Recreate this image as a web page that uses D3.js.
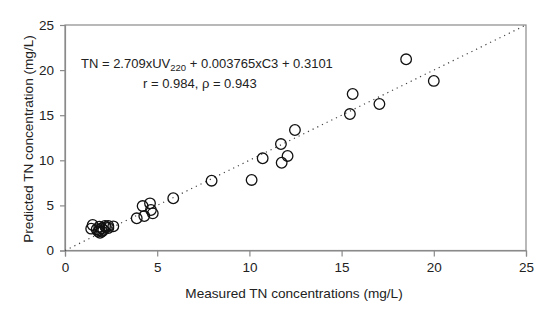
<!DOCTYPE html>
<html>
<head>
<meta charset="utf-8">
<script src="https://cdn.jsdelivr.net/npm/d3@7"></script>
<style>
  body { margin: 0; background: #fff; }
  text { font-family: "Liberation Sans", Arial, sans-serif; fill: #222; }
</style>
</head>
<body>
<div id="chart"></div>
<script>
const measured = [18.5, 20.0, 15.6, 17.05, 15.45, 12.47, 11.71, 12.07, 11.75, 10.72, 10.12, 7.95, 5.87,
  4.21, 4.61, 4.76, 4.66, 4.30, 3.89,
  1.5, 1.42, 2.62, 2.35, 2.17, 1.99, 1.81, 1.72, 1.9, 2.08, 2.35, 1.86, 2.22, 2.0, 1.85];
const predicted = [21.2, 18.8, 17.35, 16.24, 15.13, 13.36, 11.8, 10.48, 9.73, 10.22, 7.82, 7.74, 5.79,
  4.93, 5.23, 4.12, 4.49, 3.82, 3.57,
  2.83, 2.42, 2.68, 2.72, 2.72, 2.46, 2.09, 2.35, 1.97, 2.27, 2.5, 2.64, 2.57, 2.1, 2.25];
const ticks = [0, 5, 10, 15, 20, 25];
const oneToOne = [0, 25];

const W = 550, H = 321;
const margin = { top: 25, right: 24, bottom: 70.5, left: 65 };
const width = W - margin.left - margin.right;
const height = H - margin.top - margin.bottom;

const svg = d3.select("#chart").append("svg")
  .attr("width", W).attr("height", H);
const g = svg.append("g")
  .attr("transform", "translate(" + margin.left + "," + margin.top + ")");

const x = d3.scaleLinear().domain([0, 25]).range([0, width]);
const y = d3.scaleLinear().domain([0, 25]).range([height, 0]);

// frame
g.append("rect")
  .attr("x", 0).attr("y", 0)
  .attr("width", width).attr("height", height)
  .attr("fill", "none").attr("stroke", "#8a8a8a").attr("stroke-width", 1.2);

const xAxis = g.append("g")
  .attr("transform", "translate(0," + height + ")")
  .call(d3.axisBottom(x).tickValues(ticks).tickSize(6).tickPadding(6));
const yAxis = g.append("g")
  .call(d3.axisLeft(y).tickValues(ticks).tickSize(5).tickPadding(6));
[xAxis, yAxis].forEach(a => {
  a.select(".domain").attr("stroke", "#8a8a8a").attr("stroke-width", 1.2);
  a.selectAll(".tick line").attr("stroke", "#8a8a8a").attr("stroke-width", 1.2);
  a.selectAll(".tick text").style("font-family", "Liberation Sans, Arial, sans-serif")
    .style("font-size", "13.5px").attr("fill", "#222");
});

// 1:1 line
g.append("line")
  .attr("x1", x(oneToOne[0])).attr("y1", y(oneToOne[0]))
  .attr("x2", x(oneToOne[1])).attr("y2", y(oneToOne[1]))
  .attr("stroke", "#444").attr("stroke-width", 1.2)
  .attr("stroke-dasharray", "1.2,4");

// points
g.selectAll(".pt")
  .data(measured.map((m, i) => [m, predicted[i]]))
  .enter().append("circle")
  .attr("class", "pt")
  .attr("cx", d => x(d[0]))
  .attr("cy", d => y(d[1]))
  .attr("r", 5.3)
  .attr("fill", "none")
  .attr("stroke", "#111")
  .attr("stroke-width", 1.3);

// equation
const eq = g.append("text")
  .attr("x", 16).attr("y", 43)
  .style("font-size", "13px");
eq.append("tspan").text("TN = 2.709xUV");
eq.append("tspan").attr("dy", 3).style("font-size", "9.5px").text("220");
eq.append("tspan").attr("dy", -3).text(" + 0.003765xC3 + 0.3101");

g.append("text")
  .attr("x", 78).attr("y", 63)
  .style("font-size", "13px")
  .text("r = 0.984, \u03C1 = 0.943");

// axis titles
svg.append("text")
  .attr("x", 294).attr("y", 298)
  .attr("text-anchor", "middle")
  .style("font-size", "13.6px")
  .text("Measured TN concentrations (mg/L)");

svg.append("text")
  .attr("transform", "rotate(-90)")
  .attr("x", -139).attr("y", 33)
  .attr("text-anchor", "middle")
  .style("font-size", "13.6px")
  .text("Predicted TN concentration (mg/L)");
</script>
</body>
</html>
